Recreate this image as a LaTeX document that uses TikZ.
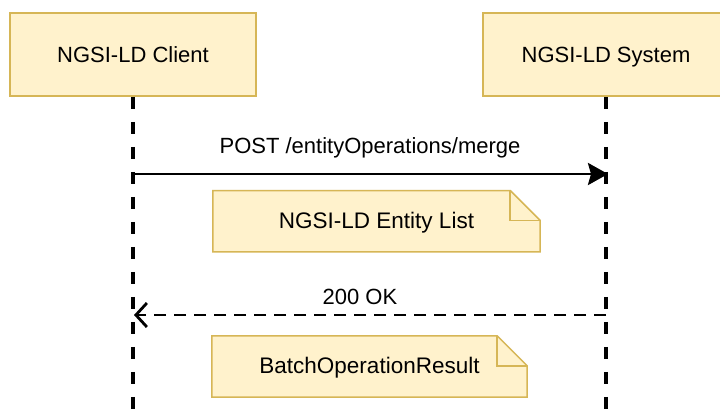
\documentclass[tikz,border=0pt]{standalone}
\usepackage{fontspec}
\setmainfont{Liberation Sans}
\usetikzlibrary{arrows.meta,backgrounds}
\definecolor{boxfill}{HTML}{FFF2CC}
\definecolor{boxdraw}{HTML}{D6B656}
\begin{document}
\begin{tikzpicture}[x=1pt,y=-1pt,
  capcenter/.style={text height=15.8pt,text depth=0pt},
  actor/.style={draw=boxdraw,fill=boxfill,line width=1.5pt,minimum width=246pt,minimum height=83pt,inner sep=0pt,capcenter,font=\fontsize{22}{26}\selectfont},
  notetext/.style={minimum width=#1,minimum height=61pt,inner sep=0pt,capcenter,font=\fontsize{22.5}{26}\selectfont},
  noteshape/.style={draw=boxdraw,fill=boxfill,line width=1.5pt,line join=miter},
  lifeline/.style={line width=3.3pt,dash pattern=on 12pt off 13pt},
  msg/.style={line width=2.8pt,-{Stealth[length=20pt,width=22pt,inset=3pt]}},
  reply/.style={line width=2.8pt,dash pattern=on 12pt off 8pt,-{Straight Barb[length=11pt,width=24pt,line width=2.8pt]}},
  lbl/.style={font=\fontsize{22}{26}\selectfont,inner sep=0pt,capcenter}]
\useasboundingbox (0,0) rectangle (720,415);
% actors
\node[actor] (client) at (133,54.5) {NGSI-LD Client};
\node[actor] (system) at (606,54.5) {NGSI-LD System};
\coordinate (clientend) at (133,420);
\coordinate (systemend) at (606,420);
\draw[lifeline] (client.south) -- (clientend);
\draw[lifeline] (system.south) -- (systemend);
% message
\coordinate (m1a) at (133,174);
\coordinate (m1b) at (608,174);
\draw[msg] (m1a) -- (m1b);
\node[lbl] (m1l) at (370,145.5) {POST /entityOperations/merge};
% note 1
\node[notetext=327pt] (n1) at (376.5,221.2) {\raisebox{1pt}{NGSI-LD Entity List}};
% reply
\coordinate (r1a) at (606,315);
\coordinate (r1b) at (134,315);
\draw[reply] (r1a) -- (r1b);
\node[lbl] (r1l) at (360,296.5) {200 OK};
% note 2
\node[notetext=315pt] (n2) at (369.5,366.5) {\raisebox{1pt}{BatchOperationResult}};
\begin{scope}[on background layer]
\fill[white] (0,0) rectangle (720,415);
\draw[noteshape] (n1.north west) -- ([xshift=-30pt]n1.north east) -- ([yshift=-30pt]n1.north east) -- (n1.south east) -- (n1.south west) -- cycle;
\draw[noteshape,fill=none] ([xshift=-30pt]n1.north east) -- ([xshift=-30pt,yshift=-30pt]n1.north east) -- ([yshift=-30pt]n1.north east);
\draw[noteshape] (n2.north west) -- ([xshift=-30pt]n2.north east) -- ([yshift=-30pt]n2.north east) -- (n2.south east) -- (n2.south west) -- cycle;
\draw[noteshape,fill=none] ([xshift=-30pt]n2.north east) -- ([xshift=-30pt,yshift=-30pt]n2.north east) -- ([yshift=-30pt]n2.north east);
\end{scope}
\end{tikzpicture}
\end{document}
